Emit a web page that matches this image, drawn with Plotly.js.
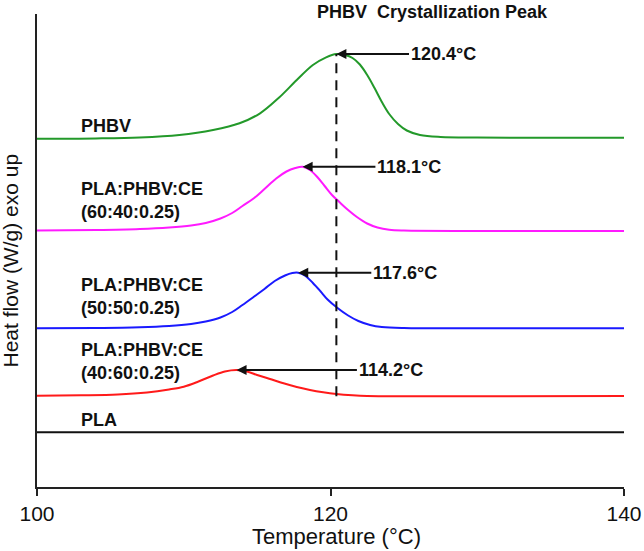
<!DOCTYPE html>
<html>
<head>
<meta charset="utf-8">
<script src="https://cdn.plot.ly/plotly-3.0.1.min.js"></script>
<style>
  html, body { margin: 0; padding: 0; background: #fff; }
  #plot { width: 644px; height: 551px; }
</style>
</head>
<body>
<div id="plot"></div>
<script>
// DSC cooling curves, heat flow shifted per sample (arbitrary units)
var phbvT = [100, 104, 107, 109.7, 112, 113.8, 115.2, 116.5, 117.7, 118.8, 119.7, 120.4, 121, 121.5, 122, 122.5, 123, 123.5, 124, 124.6, 125.2, 126.1, 127.5, 130, 135, 140];
var phbvY = [34.83, 34.86, 34.95, 35.2, 35.7, 36.37, 37.37, 38.95, 40.7, 42.2, 42.97, 43.3, 43.2, 42.9, 42.25, 41.2, 39.9, 38.5, 37.3, 36.3, 35.65, 35.2, 35.0, 34.94, 34.93, 34.93];

var b6040T = [100, 104, 107, 109, 110.5, 111.5, 112.5, 113.3, 114, 114.8, 115.5, 116.3, 117, 117.6, 118.1, 118.6, 119.1, 119.6, 120.1, 120.6, 121.2, 121.8, 122.5, 123.2, 124, 125, 130, 140];
var b6040Y = [25.65, 25.7, 25.8, 25.95, 26.15, 26.4, 26.85, 27.4, 28.1, 28.9, 29.8, 30.85, 31.55, 31.9, 32.03, 31.7, 31.0, 30.1, 29.2, 28.5, 27.7, 27.0, 26.35, 25.95, 25.72, 25.64, 25.6, 25.6];

var b5050T = [100, 104, 107, 109, 110.5, 111.5, 112.5, 113.3, 114, 114.8, 115.5, 116.2, 116.9, 117.4, 117.8, 118.3, 118.8, 119.3, 119.8, 120.5, 121.2, 121.9, 122.7, 123.5, 125, 130, 140];
var b5050Y = [15.88, 15.9, 15.97, 16.1, 16.3, 16.55, 16.95, 17.5, 18.2, 19.05, 19.8, 20.6, 21.15, 21.4, 21.43, 21.1, 20.4, 19.6, 18.75, 17.87, 17.15, 16.6, 16.2, 16.0, 15.9, 15.87, 15.87];

var b4060T = [100, 103, 105.5, 107.5, 109, 110, 111, 112, 112.8, 113.6, 114.3, 115, 116, 116.8, 117.7, 118.6, 119.5, 120.4, 121.5, 122.5, 125, 130, 140];
var b4060Y = [9.13, 9.17, 9.25, 9.45, 9.75, 10.03, 10.55, 11.15, 11.55, 11.7, 11.55, 11.2, 10.75, 10.37, 10.0, 9.7, 9.47, 9.3, 9.17, 9.1, 9.07, 9.08, 9.1];

var plaT = [100, 120, 140];
var plaY = [5.47, 5.47, 5.47];

var seriesNames = ['PHBV', 'PLA:PHBV:CE<br>(60:40:0.25)', 'PLA:PHBV:CE<br>(50:50:0.25)', 'PLA:PHBV:CE<br>(40:60:0.25)', 'PLA'];
var seriesColors = ['#23992a', '#ff1aff', '#1a1aff', '#ff1a1a', '#111111'];
var peakLabels = ['120.4°C', '118.1°C', '117.6°C', '114.2°C'];

var allT = [phbvT, b6040T, b5050T, b4060T, plaT];
var allY = [phbvY, b6040Y, b5050Y, b4060Y, plaY];

var labelFont = {family: 'Liberation Sans, Arial, sans-serif', size: 18, color: '#111', weight: 'bold'};
var axisFont = {family: 'Liberation Sans, Arial, sans-serif', size: 21, color: '#111'};

var data = allT.map(function (t, i) {
    return {
        x: t, y: allY[i], mode: 'lines', type: 'scatter',
        line: {color: seriesColors[i], width: 2, shape: 'spline', smoothing: 1},
        hoverinfo: 'skip'
    };
});

function peakIndex(arr) {
    var k = 0;
    for (var j = 1; j < arr.length; j++) if (arr[j] > arr[k]) k = j;
    return k;
}

// dashed marker through PHBV peak
var pk = peakIndex(phbvY);
data.push({
    x: [phbvT[pk], phbvT[pk]],
    y: [Math.min.apply(null, b4060Y), phbvY[pk]],
    mode: 'lines', type: 'scatter',
    line: {color: '#111', width: 2, dash: '10px,7px'},
    hoverinfo: 'skip'
});

var annotations = [];

// curve names at left
var nameY = [36.1, 28.67, 19.03, 12.53, 6.7];
seriesNames.forEach(function (s, i) {
    annotations.push({
        x: 102.85, y: nameY[i], xref: 'x', yref: 'y',
        text: s, showarrow: false, xanchor: 'left', yanchor: 'middle', align: 'left',
        font: labelFont
    });
});

// peak arrows + labels
var tailX = [125.35, 123.06, 122.78, 121.8];
peakLabels.forEach(function (s, i) {
    var k = peakIndex(allY[i]);
    annotations.push({
        x: allT[i][k], y: allY[i][k], xref: 'x', yref: 'y',
        ax: tailX[i], ay: allY[i][k], axref: 'x', ayref: 'y',
        text: s, showarrow: true, arrowhead: 2, arrowsize: 1, arrowwidth: 2, arrowcolor: '#111',
        standoff: 0, xanchor: 'left', yanchor: 'middle',
        font: labelFont
    });
});

annotations.push({
    x: 0.673, y: 1.005, xref: 'paper', yref: 'paper',
    text: 'PHBV\u00a0 Crystallization Peak', showarrow: false,
    xanchor: 'center', yanchor: 'middle', font: labelFont
});
annotations.push({
    x: 0.51, y: -0.105, xref: 'paper', yref: 'paper',
    text: 'Temperature (°C)', showarrow: false,
    xanchor: 'center', yanchor: 'middle', font: {family: axisFont.family, size: 22, color: '#111'}
});
annotations.push({
    x: -0.045, y: 0.478, xref: 'paper', yref: 'paper',
    text: 'Heat flow (W/g) exo up', showarrow: false, textangle: -90,
    xanchor: 'center', yanchor: 'middle', font: {family: axisFont.family, size: 21, color: '#111'}
});

var layout = {
    width: 644, height: 551,
    margin: {l: 37, r: 20, t: 14, b: 64},
    paper_bgcolor: '#fff', plot_bgcolor: '#fff',
    showlegend: false,
    xaxis: {
        range: [100, 140], tickvals: [100, 120, 140],
        showline: true, linecolor: '#222', linewidth: 2,
        ticks: 'outside', ticklen: 7, tickwidth: 2, tickcolor: '#222',
        showgrid: false, zeroline: false, tickfont: axisFont
    },
    yaxis: {
        range: [0, 47.3], showticklabels: false, ticks: '',
        showline: true, linecolor: '#222', linewidth: 2,
        showgrid: false, zeroline: false
    },
    annotations: annotations
};

Plotly.newPlot('plot', data, layout, {displayModeBar: false, staticPlot: true});
</script>
</body>
</html>
